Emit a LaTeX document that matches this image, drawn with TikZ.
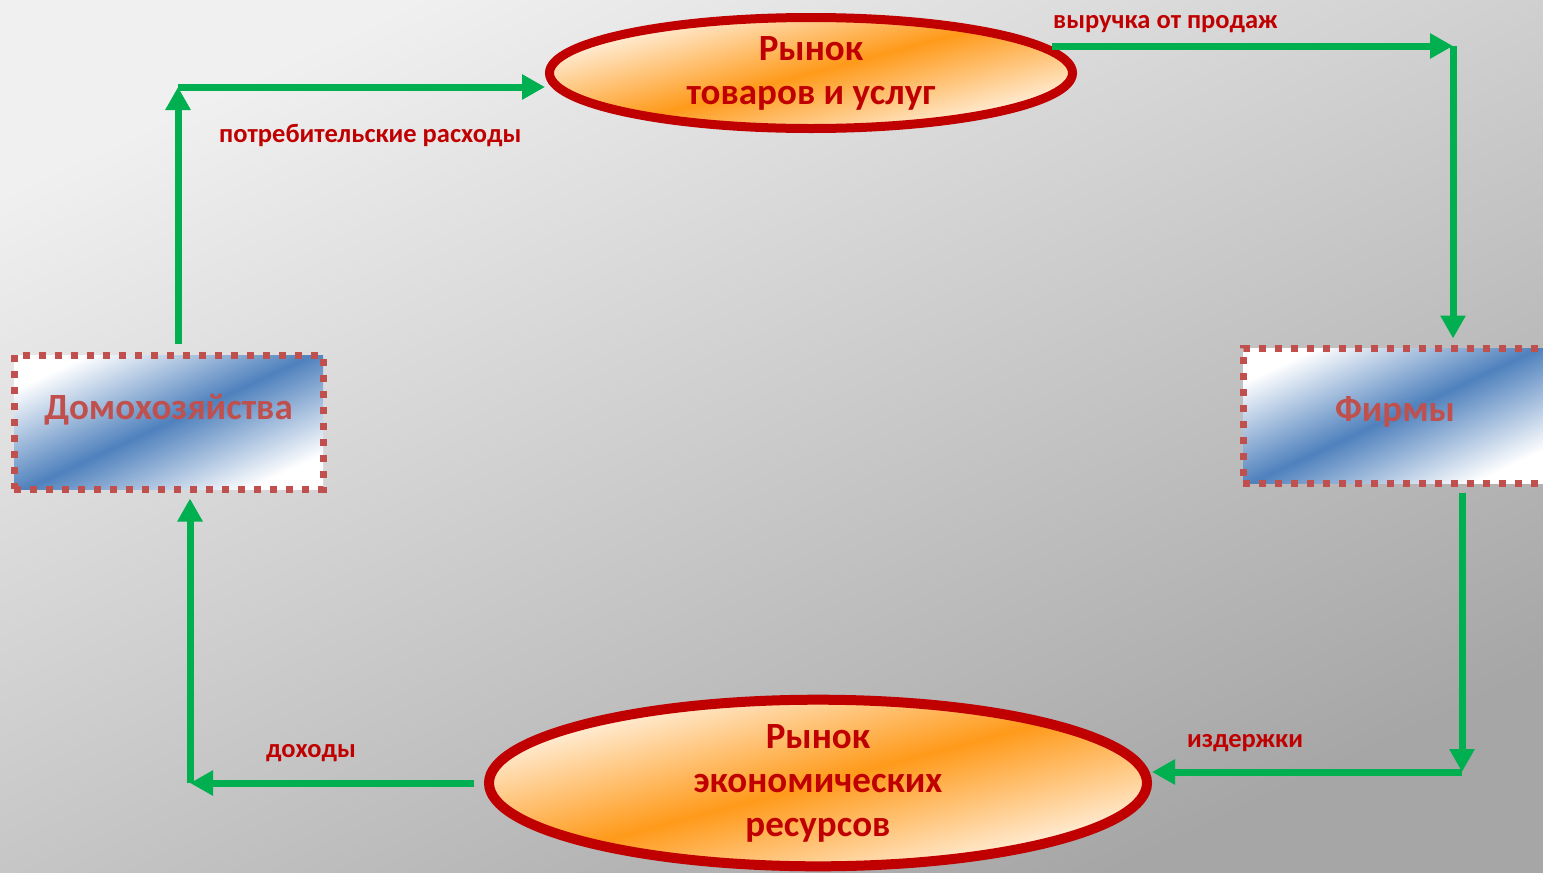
\documentclass[tikz,border=0pt]{standalone}
\usepackage{fontspec}
\setmainfont{Carlito}
\usetikzlibrary{shapes.geometric,arrows.meta}
\definecolor{mktred}{HTML}{C00000}
\definecolor{agtred}{HTML}{C0504D}
\definecolor{agtblue}{HTML}{4F81BD}
\definecolor{mktorange}{HTML}{FF9A1A}
\definecolor{flowgreen}{HTML}{00B050}
\tikzset{
  market/.style={ellipse, draw=mktred, line width=9pt, inner sep=0pt,
    top color=mktorange!6, bottom color=mktorange!6, middle color=mktorange, shading angle=15,
    text=mktred, align=center, font=\bfseries\fontsize{37}{44}\selectfont},
  agent/.style={rectangle, draw=agtred, line width=7pt, dash pattern=on 7pt off 9pt,
    top color=white, bottom color=white, middle color=agtblue, shading angle=25,
    text=agtred, inner sep=0pt, font=\bfseries\fontsize{37}{40}\selectfont},
  flowlabel/.style={text=mktred, anchor=base west, inner sep=0pt,
    font=\bfseries\fontsize{26.5}{30}\selectfont},
  flowarrow/.style={draw=flowgreen, line width=7pt, -{Triangle[length=23pt,width=24pt]}}
}
\begin{document}
\begin{tikzpicture}[x=1pt,y=-1pt]

  \useasboundingbox (0,0) rectangle (1543,873);
  \shade[top color=black!6, bottom color=black!35, shading angle=25] (0,0) rectangle (1543,873);

  \begin{scope}[every node/.style={market}]
    \node[minimum width=523pt, minimum height=111pt] (mgoods) at (811,73) {Рынок\\товаров и услуг};
    \node[minimum width=658pt, minimum height=163pt, line width=10pt] (mres) at (818,783) {Рынок\\экономических\\ресурсов};
  \end{scope}

  \begin{scope}[every node/.style={agent}]
    \node[minimum width=309pt, minimum height=134pt, text depth=30pt] (house) at (168.5,422) {Домохозяйства};
    \node[minimum width=304pt, minimum height=135pt, text depth=13pt] (firms) at (1395,415.5) {Фирмы};
  \end{scope}

  \coordinate (tl) at (178,87);
  \coordinate (tr) at (1453,46);
  \coordinate (br) at (1462,772);
  \coordinate (bl) at (190,783);

  \begin{scope}[every edge/.style={flowarrow}]
    \path (tl |- house.north) edge[shorten <=8pt] (tl);
    \path (tl) edge (tl -| mgoods.west);
    \path (tr -| mgoods.6) edge (tr);
    \path (tr) edge[shorten >=6pt] (tr |- firms.north);
    \path (br |- firms.south) edge[shorten <=6pt] (br);
    \path (br) edge (br -| mres.east);
    \path (mres.west) edge[shorten <=10pt] (bl);
    \path (bl) edge[shorten >=6pt] (bl |- house.south);
  \end{scope}

  \begin{scope}[every node/.style={flowlabel}]
    \node (lspend) at (219,142) {потребительские расходы};
    \node (lrev)   at (1053,28)  {выручка от продаж};
    \node (lcost)  at (1187,747) {издержки};
    \node (linc)   at (266,757)  {доходы};
  \end{scope}

\end{tikzpicture}
\end{document}
